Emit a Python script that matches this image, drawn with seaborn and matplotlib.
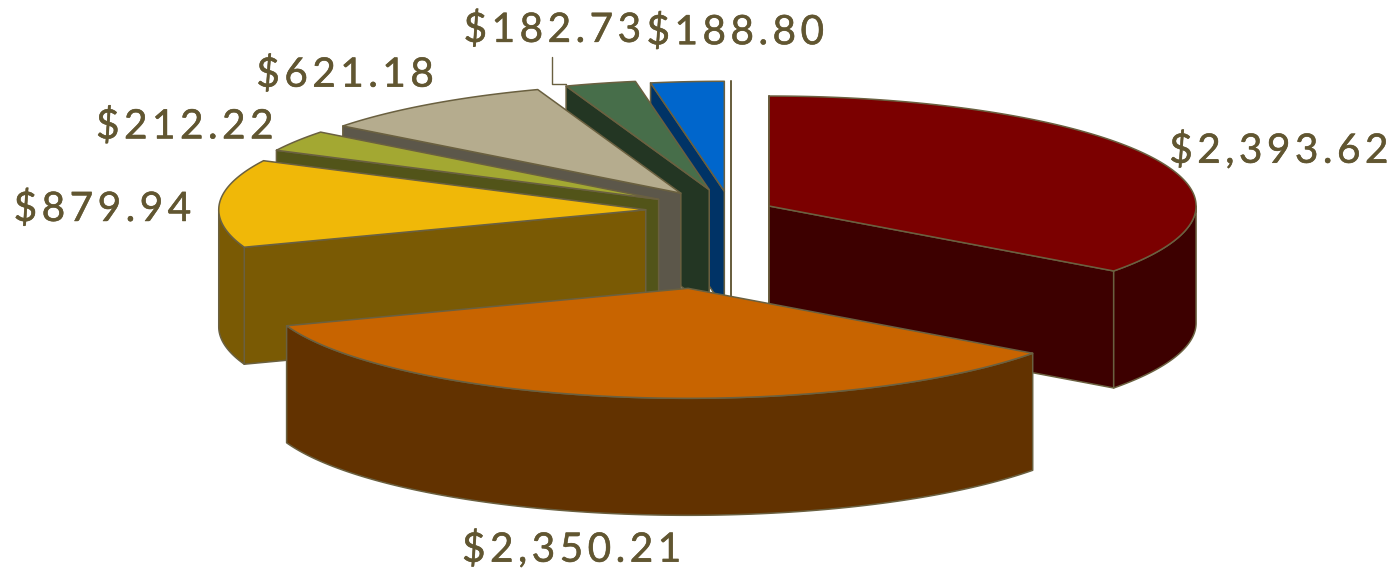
import numpy as np
import matplotlib
matplotlib.use("Agg")
import matplotlib.pyplot as plt
import matplotlib.patheffects as pe
import seaborn as sns
from matplotlib.patches import Polygon
from matplotlib import font_manager
from matplotlib.ft2font import FT2Font

sns.set_theme(style="white")
plt.rcParams['font.family'] = ['Lato', 'DejaVu Sans']

# ---------------- data ----------------
values = [2393.62, 2350.21, 879.94, 212.22, 621.18, 182.73, 188.80, 0.0]
labels = ["$2,393.62", "$2,350.21", "$879.94", "$212.22", "$621.18", "$182.73", "$188.80", ""]

# ---------------- style ----------------
top_colors = ["#7B0000", "#C86400", "#F0B808", "#A3A832", "#B5AC8E", "#476E4A", "#0066CC", "#FFFFFF"]
side_colors = ["#3D0000", "#623200", "#7A5A04", "#525419", "#5C574A", "#233623", "#003366", "#FFFFFF"]
explode = [0.10, 0.71, 0.20, 0.20, 0.20, 0.20, 0.18, 0.18]
label_offsets = [(129, -8), (-56, 150), (-117, 3), (-112, -17), (-85, -32), (-48, -56), (48, -52), (0, 0)]
leader = [False, False, False, False, False, True, False, False]

EDGE = "#6A6040"
TEXT = "#615631"
CX, CY = 731, 211      # pie centre (pixels)
A, B = 427, 110        # ellipse semi-axes
D = 117                # pie thickness
FS_PX = 40.5
TRACK = 4.5

fig = plt.figure(figsize=(13.95, 5.72), dpi=100)
ax = fig.add_axes([0, 0, 1, 1])
ax.set_xlim(0, 1395)
ax.set_ylim(572, 0)
ax.axis("off")

total = float(np.sum(values))
fr = np.array(values) / total
ends = np.cumsum(fr) * 2 * np.pi
starts = ends - fr * 2 * np.pi


def rim(ox, oy, th, dz=0.0):
    return (ox + A * np.sin(th), oy - B * np.cos(th) + dz)


def arc(ox, oy, t1, t2, dz=0.0):
    n = max(2, int(abs(t2 - t1) * 180 / np.pi * 2))
    ts = np.linspace(t1, t2, n)
    return [rim(ox, oy, t, dz) for t in ts]


def poly(pts, fc):
    ax.add_patch(Polygon(pts, closed=True, facecolor=fc, edgecolor=EDGE,
                         linewidth=1.1, joinstyle="round"))


info = []
for i in range(len(values)):
    t1, t2 = starts[i], ends[i]
    mid = 0.5 * (t1 + t2)
    ox = CX + explode[i] * A * np.sin(mid)
    oy = CY - explode[i] * B * np.cos(mid)
    info.append((t1, t2, mid, ox, oy))

order = sorted(range(len(values)), key=lambda i: -np.cos(info[i][2]))

for i in order:
    t1, t2, mid, ox, oy = info[i]
    side = side_colors[i]
    # radial faces
    if np.sin(t1) < 1e-9:
        p = rim(ox, oy, t1)
        poly([(ox, oy), p, (p[0], p[1] + D), (ox, oy + D)], side)
    if np.sin(t2) > -1e-9 and t2 < 1.5 * np.pi:
        p = rim(ox, oy, t2)
        poly([(ox, oy), p, (p[0], p[1] + D), (ox, oy + D)], side)
    # outer wall
    lo, hi = max(t1, np.pi / 2), min(t2, 1.5 * np.pi)
    if hi > lo:
        top = arc(ox, oy, lo, hi)
        bot = arc(ox, oy, lo, hi, D)
        poly(top + bot[::-1], side)
    # top face
    poly([(ox, oy)] + arc(ox, oy, t1, t2), top_colors[i])

# ---------------- labels with letter spacing ----------------
fpath = font_manager.findfont(font_manager.FontProperties(family="Lato"))
ft = FT2Font(fpath)
ft.set_size(FS_PX, 72)


def adv(ch):
    g = ft.load_char(ord(ch))
    return g.linearHoriAdvance / 65536.0


FS_PT = FS_PX * 72 / 100.0
CAP = 0.7165 * FS_PX
stroke = [pe.withStroke(linewidth=0.4, foreground=TEXT)]


def spaced(xc, yc, s):
    ws = [adv(c) for c in s]
    tot = sum(ws) + TRACK * (len(s) - 1)
    x = xc - tot / 2
    for c, w in zip(s, ws):
        ax.text(x, yc + CAP / 2, c, fontsize=FS_PT, color=TEXT, ha="left",
                va="baseline", family="Lato", path_effects=stroke)
        x += w + TRACK


for i in range(len(values)):
    if not labels[i]:
        continue
    t1, t2, mid, ox, oy = info[i]
    ax_, ay_ = rim(ox, oy, mid)
    lx, ly = ax_ + label_offsets[i][0], ay_ + label_offsets[i][1]
    spaced(lx, ly, labels[i])
    if leader[i]:
        rx, ry = rim(ox, oy, t1)
        ax.plot([lx, lx, rx], [ly + 30, ry - 2, ry - 2], color=EDGE, lw=1.0)

fig.savefig("out.png", dpi=100, facecolor="white")
